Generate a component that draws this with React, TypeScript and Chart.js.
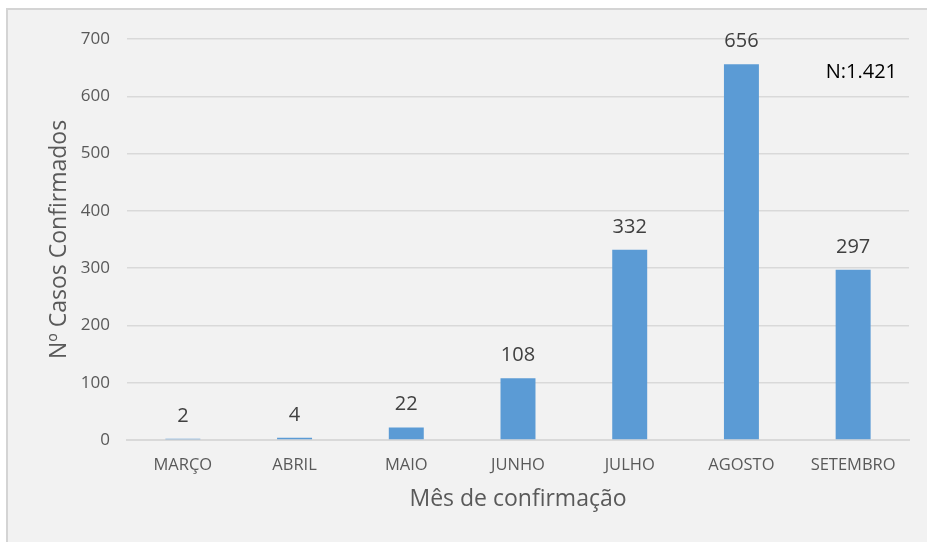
import React, { useEffect, useRef } from "react";
import { Chart, registerables } from "chart.js";

Chart.register(...registerables);

const categories = ["MARÇO", "ABRIL", "MAIO", "JUNHO", "JULHO", "AGOSTO", "SETEMBRO"];
const casos = [2, 4, 22, 108, 332, 656, 297];
const yTicks = [0, 100, 200, 300, 400, 500, 600, 700];
const totalLabel = "N:1.421";
const xTitle = "Mês de confirmação";
const yTitle = "Nº Casos Confirmados";

const FONT = "'Open Sans', sans-serif";

const bgPlugin = {
  id: "bgBox",
  beforeDraw(chart: any) {
    const ctx = chart.ctx;
    ctx.save();
    ctx.fillStyle = "#ffffff";
    ctx.fillRect(0, 0, chart.width, chart.height);
    ctx.fillStyle = "#f2f2f2";
    ctx.fillRect(7, 9, chart.width, chart.height);
    ctx.strokeStyle = "#d4d4d4";
    ctx.lineWidth = 2;
    ctx.strokeRect(7, 9, chart.width + 10, chart.height + 10);
    ctx.restore();
  },
};

const labelPlugin = {
  id: "barLabels",
  afterDatasetsDraw(chart: any) {
    const ctx = chart.ctx;
    const meta = chart.getDatasetMeta(0);
    ctx.save();
    ctx.font = `20px ${FONT}`;
    ctx.fillStyle = "#404040";
    ctx.textAlign = "center";
    ctx.textBaseline = "alphabetic";
    meta.data.forEach((el: any, i: number) => {
      ctx.fillText(String(casos[i]), el.x, el.y - 17);
    });
    ctx.font = `20px ${FONT}`;
    ctx.fillStyle = "#000000";
    ctx.textAlign = "right";
    ctx.fillText(totalLabel, chart.chartArea.right - 12, chart.chartArea.top + 39);
    ctx.restore();
  },
};

export default function App() {
  const ref = useRef<HTMLCanvasElement>(null);
  useEffect(() => {
    if (!ref.current) return;
    const chart = new Chart(ref.current, {
      type: "bar",
      data: {
        labels: categories,
        datasets: [
          {
            data: casos,
            backgroundColor: "#5b9bd5",
            barPercentage: 0.313,
            categoryPercentage: 1,
          },
        ],
      },
      options: {
        responsive: false,
        maintainAspectRatio: false,
        animation: false,
        layout: { padding: { top: 39, right: 18, left: 0, bottom: 0 } },
        plugins: { legend: { display: false }, tooltip: { enabled: false } },
        scales: {
          x: {
            grid: { display: false, drawTicks: false },
            border: { display: true, color: "#d9d9d9", width: 2 },
            ticks: { color: "#595959", font: { family: FONT, size: 16.5 }, padding: 15 },
            title: {
              display: true,
              text: xTitle,
              color: "#595959",
              font: { family: FONT, size: 23 },
              padding: { top: 0, bottom: 29 },
            },
            afterFit(scale: any) {
              scale.height = 102;
            },
          },
          y: {
            min: 0,
            max: 700,
            afterBuildTicks(scale: any) {
              scale.ticks = yTicks.map((v) => ({ value: v }));
            },
            grid: { color: "#d9d9d9", lineWidth: 1.5, drawTicks: false },
            border: { display: false },
            ticks: { color: "#595959", font: { family: FONT, size: 17 }, padding: 17 },
            title: {
              display: true,
              text: yTitle,
              color: "#595959",
              font: { family: FONT, size: 23 },
              padding: { top: 46, bottom: 0 },
            },
            afterFit(scale: any) {
              scale.width = 127;
            },
          },
        },
      },
      plugins: [bgPlugin, labelPlugin],
    });
    return () => chart.destroy();
  }, []);
  return (
    <div style={{ position: "absolute", left: 0, top: 0, width: 927, height: 542 }}>
      <canvas ref={ref} width={927} height={542} style={{ display: "block" }} />
    </div>
  );
}
